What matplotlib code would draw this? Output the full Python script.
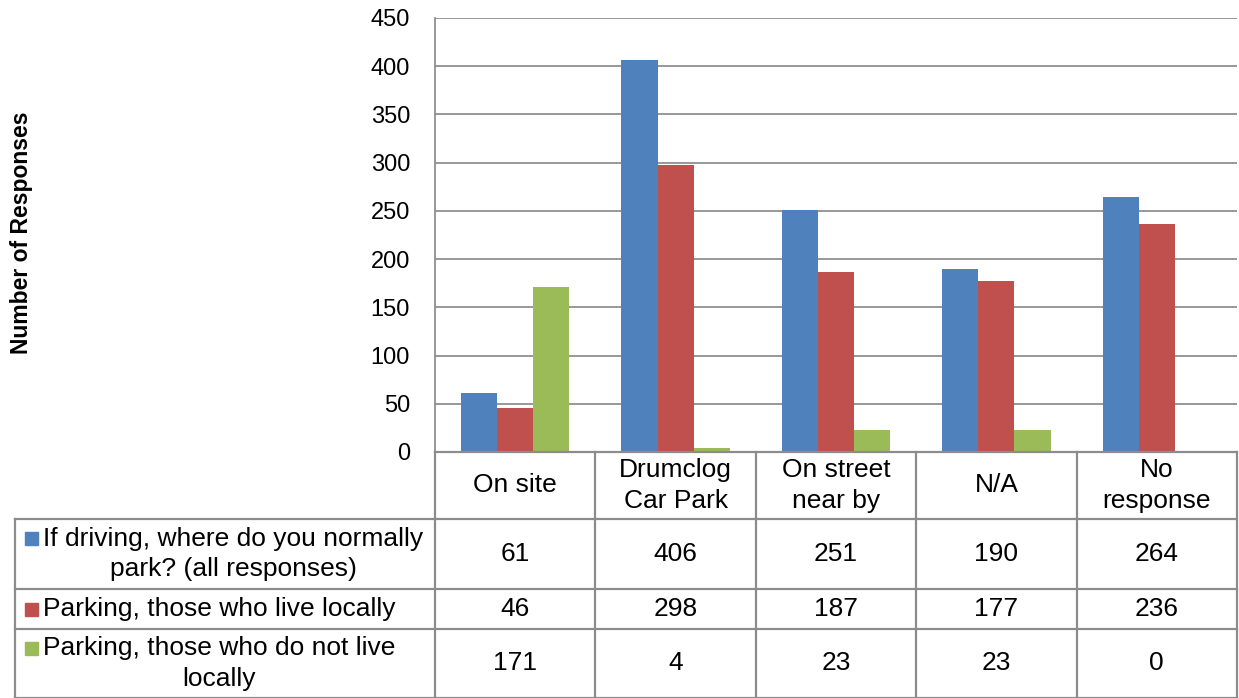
import matplotlib.pyplot as plt
import numpy as np

plt.rcParams['font.family'] = ['Liberation Sans', 'DejaVu Sans']

# categories and the three response series
categories = ["On site", "Drumclog\nCar Park", "On street\nnear by", "N/A", "No\nresponse"]
series_names = [
    "If driving, where do you normally\npark? (all responses)",
    "Parking, those who live locally",
    "Parking, those who do not live\nlocally",
]
all_responses = [61, 406, 251, 190, 264]
live_locally = [46, 298, 187, 177, 236]
not_local = [171, 4, 23, 23, 0]
series = [all_responses, live_locally, not_local]
colors = ["#4F81BD", "#C0504D", "#9BBB59"]
yticks = list(range(0, 451, 50))

W, H = 1239, 698
fig = plt.figure(figsize=(W / 100, H / 100), dpi=100)


def box(l, t, r, b):
    return [l / W, 1 - b / H, (r - l) / W, (b - t) / H]


grid_c = "#868686"
fs = 19
ls = 1.32

# bar chart
ax = fig.add_axes(box(435, 18, 1237, 452))
x = np.arange(len(categories))
bw = 0.225
for i, (vals, c) in enumerate(zip(series, colors)):
    ax.bar(x + (i - 1) * bw, vals, width=bw, color=c, zorder=3)
ax.set_xlim(-0.5, len(categories) - 0.5)
ax.set_ylim(0, 450)
ax.set_yticks(yticks)
ax.set_xticks([])
ax.yaxis.grid(True, color=grid_c, lw=1.2)
ax.tick_params(axis="y", length=0, pad=18, labelsize=17)
for s in ["top", "right", "bottom"]:
    ax.spines[s].set_visible(False)
ax.spines["left"].set_color(grid_c)
ax.spines["left"].set_linewidth(1.2)

fig.text(22 / W, 1 - 233 / H, "Number of Responses", rotation=90,
         ha="center", va="center", fontsize=16.5, fontweight="bold")

# data table underneath, laid out in pixel coordinates
tb = fig.add_axes([0, 0, 1, 1 - 452 / H])
tb.set_xlim(0, W)
tb.set_ylim(H, 452)
tb.axis("off")
line_c = "#8C8C8C"
lw = 1.6
col_l, col_r = 435, 1237
col_w = (col_r - col_l) / len(categories)
rows = [452, 519, 589, 629, 698]

for i in range(len(categories) + 1):
    xc = col_l + i * col_w
    tb.plot([xc, xc], [452, 698], color=line_c, lw=lw, clip_on=False)
tb.plot([col_l, col_r], [452, 452], color=line_c, lw=lw, clip_on=False)
for yy in rows[1:]:
    tb.plot([15, col_r], [yy, yy], color=line_c, lw=lw, clip_on=False)
tb.plot([15, 15], [519, 698], color=line_c, lw=lw, clip_on=False)

for j, cat in enumerate(categories):
    cx = col_l + (j + 0.5) * col_w
    tb.text(cx, (rows[0] + rows[1]) / 2, cat, ha="center", va="center",
            fontsize=fs, linespacing=ls)

for i, (name, vals, c) in enumerate(zip(series_names, series, colors)):
    top, bot = rows[i + 1], rows[i + 2]
    cy = (top + bot) / 2
    tb.text(43, cy, name, ha="left", va="center", multialignment="center",
            fontsize=fs, linespacing=ls)
    n_lines = name.count("\n") + 1
    sy = cy - (n_lines - 1) * 15.5
    tb.add_patch(plt.Rectangle((24.5, sy - 6.5), 13, 13, color=c))
    for j, v in enumerate(vals):
        cx = col_l + (j + 0.5) * col_w
        tb.text(cx, cy, str(v), ha="center", va="center", fontsize=fs)

fig.savefig("out.png", dpi=100)
